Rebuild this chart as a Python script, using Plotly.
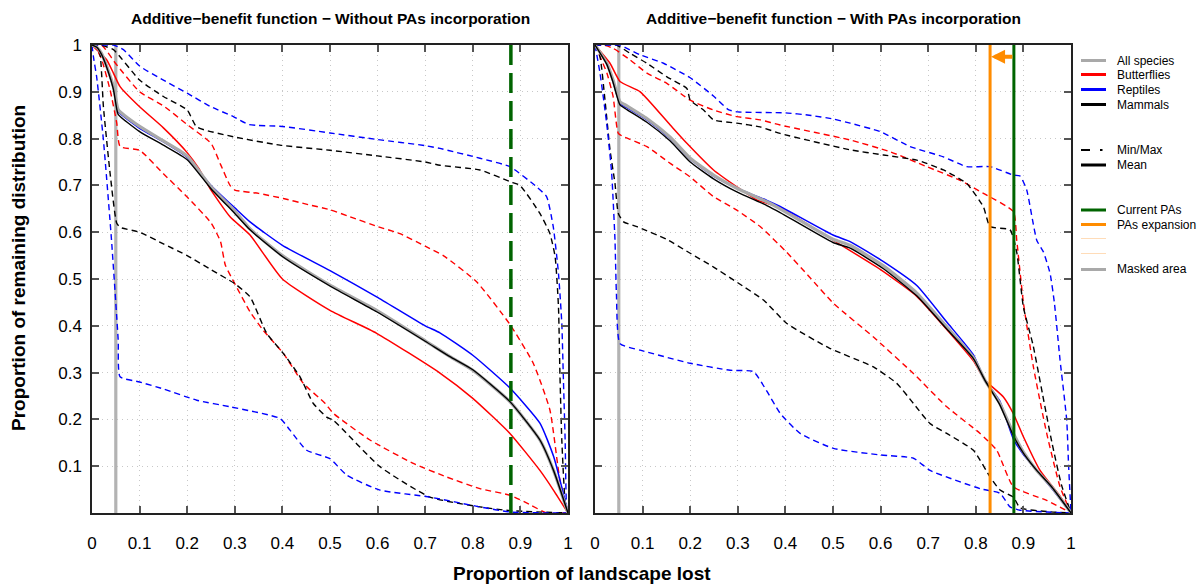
import plotly.graph_objects as go

# ---------------------------------------------------------------------------
# Performance curves: proportion of landscape lost (x) vs proportion of
# remaining distribution (y). Left panel: without PAs, right panel: with PAs.
# ---------------------------------------------------------------------------

# ---- Without PAs incorporation ------------------------------------------
WO_ALL_X = [0, 0.01, 0.02, 0.031, 0.045, 0.05, 0.055, 0.1, 0.15, 0.2, 0.25, 0.3, 0.332, 0.4, 0.5, 0.598, 0.7, 0.752, 0.8, 0.878, 0.941, 0.97, 1.0]
WO_ALL_Y = [1.0, 0.995, 0.982, 0.954, 0.911, 0.885, 0.862, 0.826, 0.795, 0.763, 0.697, 0.645, 0.607, 0.55, 0.487, 0.433, 0.368, 0.334, 0.305, 0.238, 0.156, 0.09, 0.0]
WO_MAM_Y = [1.0, 0.995, 0.98, 0.952, 0.905, 0.875, 0.852, 0.815, 0.786, 0.755, 0.693, 0.64, 0.605, 0.548, 0.485, 0.43, 0.367, 0.334, 0.306, 0.238, 0.156, 0.09, 0.0]
WO_REP_X = [0, 0.01, 0.02, 0.031, 0.045, 0.05, 0.055, 0.1, 0.15, 0.2, 0.25, 0.3, 0.332, 0.4, 0.5, 0.598, 0.7, 0.731, 0.8, 0.878, 0.941, 0.97, 1.0]
WO_REP_Y = [1.0, 0.995, 0.98, 0.952, 0.908, 0.882, 0.858, 0.822, 0.793, 0.76, 0.70, 0.652, 0.622, 0.572, 0.518, 0.462, 0.40, 0.385, 0.337, 0.267, 0.192, 0.12, 0.0]
WO_BUT_X = [0, 0.01, 0.031, 0.045, 0.059, 0.1, 0.15, 0.2, 0.225, 0.248, 0.29, 0.332, 0.4, 0.5, 0.598, 0.731, 0.8, 0.878, 0.941, 0.97, 1.0]
WO_BUT_Y = [1.0, 0.99, 0.968, 0.94, 0.911, 0.868, 0.823, 0.77, 0.735, 0.693, 0.633, 0.594, 0.5, 0.433, 0.384, 0.299, 0.245, 0.17, 0.091, 0.048, 0.0]

WO_BUT_MAX_X = [0, 0.02, 0.05, 0.1, 0.15, 0.2, 0.25, 0.27, 0.29, 0.3, 0.35, 0.402, 0.45, 0.5, 0.542, 0.6, 0.647, 0.7, 0.738, 0.808, 0.878, 0.927, 0.962, 0.983, 1.0]
WO_BUT_MAX_Y = [1.0, 1.0, 0.96, 0.90, 0.87, 0.83, 0.79, 0.745, 0.70, 0.69, 0.683, 0.672, 0.66, 0.648, 0.633, 0.612, 0.597, 0.57, 0.55, 0.494, 0.403, 0.32, 0.22, 0.07, 0.0]
WO_BUT_MIN_X = [0, 0.01, 0.02, 0.038, 0.052, 0.059, 0.1, 0.15, 0.2, 0.25, 0.27, 0.28, 0.3, 0.332, 0.36, 0.402, 0.444, 0.49, 0.507, 0.584, 0.675, 0.745, 0.815, 0.878, 0.92, 0.955, 1.0]
WO_BUT_MIN_Y = [1.0, 0.99, 0.97, 0.904, 0.833, 0.783, 0.775, 0.725, 0.675, 0.62, 0.58, 0.53, 0.49, 0.43, 0.39, 0.341, 0.277, 0.234, 0.213, 0.156, 0.106, 0.077, 0.052, 0.038, 0.018, 0.0, 0.0]
WO_MAM_MAX_X = [0, 0.017, 0.045, 0.1, 0.15, 0.2, 0.22, 0.297, 0.395, 0.5, 0.6, 0.7, 0.731, 0.815, 0.878, 0.899, 0.941, 0.962, 0.973, 0.98, 0.983, 0.987, 0.995, 1.0]
WO_MAM_MAX_Y = [1.0, 1.0, 0.99, 0.925, 0.89, 0.861, 0.825, 0.804, 0.786, 0.775, 0.763, 0.75, 0.743, 0.733, 0.708, 0.70, 0.64, 0.597, 0.547, 0.44, 0.298, 0.156, 0.013, 0.0]
WO_MAM_MIN_X = [0, 0.01, 0.017, 0.024, 0.038, 0.052, 0.06, 0.1, 0.15, 0.2, 0.25, 0.3, 0.332, 0.367, 0.402, 0.437, 0.465, 0.493, 0.507, 0.605, 0.71, 0.815, 0.878, 1.0]
WO_MAM_MIN_Y = [1.0, 0.995, 0.979, 0.868, 0.726, 0.619, 0.61, 0.60, 0.575, 0.55, 0.52, 0.49, 0.462, 0.384, 0.341, 0.291, 0.234, 0.205, 0.198, 0.099, 0.034, 0.013, 0.005, 0.0]
WO_REP_MAX_X = [0, 0.03, 0.045, 0.066, 0.1, 0.15, 0.2, 0.25, 0.297, 0.33, 0.4, 0.5, 0.6, 0.7, 0.731, 0.815, 0.878, 0.934, 0.955, 0.969, 0.98, 0.987, 0.99, 0.994, 0.997, 1.0]
WO_REP_MAX_Y = [1.0, 1.0, 1.0, 0.99, 0.955, 0.925, 0.897, 0.868, 0.847, 0.83, 0.826, 0.812, 0.798, 0.785, 0.779, 0.758, 0.74, 0.697, 0.676, 0.612, 0.512, 0.405, 0.298, 0.156, 0.013, 0.0]
WO_REP_MIN_X = [0, 0.003, 0.01, 0.024, 0.041, 0.055, 0.059, 0.1, 0.15, 0.22, 0.29, 0.395, 0.416, 0.451, 0.5, 0.535, 0.605, 0.71, 0.815, 0.88, 1.0]
WO_REP_MIN_Y = [1.0, 0.975, 0.93, 0.797, 0.583, 0.37, 0.291, 0.28, 0.265, 0.241, 0.227, 0.202, 0.177, 0.134, 0.116, 0.081, 0.049, 0.034, 0.013, 0.002, 0.0]

# ---- With PAs incorporation ---------------------------------------------
WI_ALL_X = [0, 0.025, 0.038, 0.0525, 0.067, 0.109, 0.158, 0.2, 0.249, 0.298, 0.361, 0.389, 0.5, 0.536, 0.606, 0.676, 0.739, 0.795, 0.819, 0.85, 0.879, 0.9, 0.928, 0.96, 1.0]
WI_ALL_Y = [1.0, 0.961, 0.925, 0.879, 0.87, 0.843, 0.803, 0.758, 0.722, 0.694, 0.665, 0.65, 0.585, 0.572, 0.528, 0.47, 0.398, 0.332, 0.284, 0.235, 0.17, 0.13, 0.091, 0.055, 0.0]
WI_MAM_Y = [1.0, 0.958, 0.92, 0.872, 0.862, 0.835, 0.795, 0.75, 0.714, 0.686, 0.657, 0.642, 0.578, 0.566, 0.522, 0.464, 0.393, 0.33, 0.284, 0.232, 0.165, 0.128, 0.091, 0.055, 0.0]
WI_REP_Y = [1.0, 0.96, 0.922, 0.875, 0.866, 0.84, 0.8, 0.756, 0.72, 0.694, 0.668, 0.655, 0.594, 0.58, 0.537, 0.486, 0.408, 0.338, 0.284, 0.24, 0.158, 0.125, 0.091, 0.052, 0.0]
WI_BUT_X = [0, 0.0315, 0.0525, 0.095, 0.158, 0.193, 0.249, 0.298, 0.34, 0.389, 0.5, 0.6, 0.676, 0.739, 0.795, 0.819, 0.858, 0.879, 0.9, 0.935, 0.977, 1.0]
WI_BUT_Y = [1.0, 0.961, 0.922, 0.9, 0.829, 0.79, 0.733, 0.697, 0.669, 0.652, 0.583, 0.52, 0.463, 0.392, 0.325, 0.284, 0.248, 0.212, 0.163, 0.091, 0.036, 0.0]

WI_BUT_MAX_X = [0, 0.017, 0.038, 0.074, 0.109, 0.151, 0.2, 0.249, 0.298, 0.347, 0.389, 0.536, 0.62, 0.697, 0.767, 0.816, 0.879, 0.886, 0.9, 0.921, 0.949, 0.977, 1.0]
WI_BUT_MAX_Y = [1.0, 1.0, 0.993, 0.968, 0.94, 0.918, 0.882, 0.861, 0.847, 0.84, 0.829, 0.797, 0.772, 0.74, 0.711, 0.683, 0.644, 0.583, 0.45, 0.312, 0.17, 0.056, 0.0]
WI_BUT_MIN_X = [0, 0.025, 0.038, 0.049, 0.06, 0.109, 0.158, 0.2, 0.249, 0.298, 0.347, 0.4, 0.45, 0.501, 0.585, 0.669, 0.739, 0.809, 0.844, 0.879, 0.949, 1.0]
WI_BUT_MIN_Y = [1.0, 0.94, 0.89, 0.811, 0.804, 0.783, 0.747, 0.718, 0.676, 0.647, 0.612, 0.56, 0.505, 0.448, 0.376, 0.298, 0.227, 0.17, 0.134, 0.056, 0.027, 0.0]
WI_MAM_MAX_X = [0, 0.02, 0.045, 0.074, 0.109, 0.151, 0.193, 0.2, 0.228, 0.249, 0.298, 0.347, 0.389, 0.536, 0.606, 0.676, 0.732, 0.781, 0.816, 0.83, 0.872, 0.886, 0.9, 0.92, 0.94, 0.96, 0.98, 1.0]
WI_MAM_MAX_Y = [1.0, 1.0, 1.0, 0.982, 0.961, 0.932, 0.907, 0.882, 0.861, 0.84, 0.833, 0.825, 0.811, 0.776, 0.765, 0.754, 0.733, 0.704, 0.654, 0.612, 0.605, 0.557, 0.44, 0.36, 0.255, 0.15, 0.06, 0.0]
WI_MAM_MIN_X = [0, 0.0105, 0.021, 0.0315, 0.042, 0.049, 0.06, 0.088, 0.15, 0.2, 0.25, 0.3, 0.354, 0.403, 0.493, 0.585, 0.634, 0.669, 0.704, 0.739, 0.795, 0.83, 0.851, 0.879, 0.893, 0.95, 1.0]
WI_MAM_MIN_Y = [1.0, 0.975, 0.882, 0.776, 0.704, 0.64, 0.622, 0.612, 0.585, 0.555, 0.525, 0.492, 0.455, 0.405, 0.352, 0.312, 0.277, 0.234, 0.191, 0.17, 0.134, 0.077, 0.049, 0.034, 0.011, 0.003, 0.0]
WI_REP_MAX_X = [0, 0.04, 0.0525, 0.067, 0.095, 0.144, 0.2, 0.25, 0.28, 0.3, 0.4, 0.45, 0.5, 0.536, 0.599, 0.662, 0.732, 0.781, 0.83, 0.879, 0.893, 0.907, 0.928, 0.942, 0.956, 0.965, 0.977, 0.991, 0.995, 1.0]
WI_REP_MAX_Y = [1.0, 1.0, 1.0, 0.993, 0.979, 0.961, 0.93, 0.89, 0.862, 0.857, 0.855, 0.85, 0.842, 0.833, 0.815, 0.783, 0.761, 0.74, 0.74, 0.722, 0.72, 0.69, 0.583, 0.558, 0.512, 0.45, 0.327, 0.198, 0.1, 0.0]
WI_REP_MIN_X = [0, 0.0105, 0.0245, 0.035, 0.042, 0.045, 0.0525, 0.095, 0.2, 0.284, 0.333, 0.36, 0.389, 0.431, 0.501, 0.6, 0.669, 0.704, 0.809, 0.851, 0.872, 0.893, 0.95, 1.0]
WI_REP_MIN_Y = [1.0, 0.94, 0.833, 0.726, 0.583, 0.469, 0.362, 0.348, 0.32, 0.305, 0.302, 0.262, 0.213, 0.17, 0.138, 0.124, 0.117, 0.091, 0.052, 0.042, 0.013, 0.006, 0.002, 0.0]

# ---- Reference positions on the landscape-lost axis ---------------------
MASKED_AREA = 0.05
CURRENT_PAS = 0.88
PAS_EXPANSION = 0.83
ARROW_LEVEL = 0.975

X_TICKS = [0, 0.1, 0.2, 0.3, 0.4, 0.5, 0.6, 0.7, 0.8, 0.9, 1]
X_LABELS = ["0", "0.1", "0.2", "0.3", "0.4", "0.5", "0.6", "0.7", "0.8", "0.9", "1"]
Y_TICKS = [0.1, 0.2, 0.3, 0.4, 0.5, 0.6, 0.7, 0.8, 0.9, 1]
Y_LABELS = ["0.1", "0.2", "0.3", "0.4", "0.5", "0.6", "0.7", "0.8", "0.9", "1"]

TITLES = ["Additive\u2212benefit function \u2212 Without PAs incorporation",
          "Additive\u2212benefit function \u2212 With PAs incorporation"]

RED, BLUE, BLACK, GREY = "#ff0000", "#0000ff", "#000000", "#a9a9a9"
GREEN, ORANGE, PALE_ORANGE = "#006400", "#ff8c00", "#ffdcb8"
FONT = "Liberation Sans, Arial, sans-serif"

# ---- Page geometry (pixels) -------------------------------------------------
W, H = 1203, 588
PANELS = [(92, 568), (595, 1071)]
TOP, BOTTOM = 45, 513


def fx(p):
    return p / W


def fy(p):
    return 1 - p / H


fig = go.Figure()

panels = [
    dict(xa="x", ya="y",
         dashed=[(WO_BUT_MAX_X, WO_BUT_MAX_Y, RED), (WO_BUT_MIN_X, WO_BUT_MIN_Y, RED),
                 (WO_MAM_MAX_X, WO_MAM_MAX_Y, BLACK), (WO_MAM_MIN_X, WO_MAM_MIN_Y, BLACK),
                 (WO_REP_MAX_X, WO_REP_MAX_Y, BLUE), (WO_REP_MIN_X, WO_REP_MIN_Y, BLUE)],
         means=[(WO_BUT_X, WO_BUT_Y, RED, 1.5), (WO_REP_X, WO_REP_Y, BLUE, 1.5),
                (WO_ALL_X, WO_ALL_Y, GREY, 3.2), (WO_ALL_X, WO_MAM_Y, BLACK, 1.4)]),
    dict(xa="x2", ya="y2",
         dashed=[(WI_BUT_MAX_X, WI_BUT_MAX_Y, RED), (WI_BUT_MIN_X, WI_BUT_MIN_Y, RED),
                 (WI_MAM_MAX_X, WI_MAM_MAX_Y, BLACK), (WI_MAM_MIN_X, WI_MAM_MIN_Y, BLACK),
                 (WI_REP_MAX_X, WI_REP_MAX_Y, BLUE), (WI_REP_MIN_X, WI_REP_MIN_Y, BLUE)],
         means=[(WI_BUT_X, WI_BUT_Y, RED, 1.5), (WI_ALL_X, WI_REP_Y, BLUE, 1.5),
                (WI_ALL_X, WI_ALL_Y, GREY, 3.2), (WI_ALL_X, WI_MAM_Y, BLACK, 1.4)]),
]

SMOOTH = 0.5
for p in panels:
    # masked area marker
    fig.add_trace(go.Scatter(x=[MASKED_AREA, MASKED_AREA], y=[0, 1], mode="lines",
                             line=dict(color="#b3b3b3", width=3.2),
                             xaxis=p["xa"], yaxis=p["ya"], showlegend=False, hoverinfo="skip"))
    for xs, ys, col in p["dashed"]:
        fig.add_trace(go.Scatter(x=xs, y=ys, mode="lines",
                                 line=dict(color=col, width=1.4, dash="6px,4px",
                                           shape="spline", smoothing=SMOOTH),
                                 xaxis=p["xa"], yaxis=p["ya"], showlegend=False))
    for xs, ys, col, w in p["means"]:
        fig.add_trace(go.Scatter(x=xs, y=ys, mode="lines",
                                 line=dict(color=col, width=w, shape="spline", smoothing=SMOOTH),
                                 xaxis=p["xa"], yaxis=p["ya"], showlegend=False))

# current PAs (dashed, left) and current/expanded PAs (right)
fig.add_trace(go.Scatter(x=[CURRENT_PAS, CURRENT_PAS], y=[0, 1], mode="lines",
                         line=dict(color=GREEN, width=3.5, dash="20px,8px"),
                         xaxis="x", yaxis="y", showlegend=False))
fig.add_trace(go.Scatter(x=[CURRENT_PAS, CURRENT_PAS], y=[0, 1], mode="lines",
                         line=dict(color=GREEN, width=3),
                         xaxis="x2", yaxis="y2", showlegend=False))
fig.add_trace(go.Scatter(x=[PAS_EXPANSION, PAS_EXPANSION], y=[0, 1], mode="lines",
                         line=dict(color=ORANGE, width=3),
                         xaxis="x2", yaxis="y2", showlegend=False))

annotations = [
    dict(x=PAS_EXPANSION, y=ARROW_LEVEL, ax=CURRENT_PAS, ay=ARROW_LEVEL,
         xref="x2", yref="y2", axref="x2", ayref="y2", text="", showarrow=True,
         arrowhead=2, arrowsize=0.7, arrowwidth=4, arrowcolor=ORANGE, standoff=1),
]

axis_common = dict(range=[0, 1], showline=True, linecolor="#222222", linewidth=1.5,
                   mirror="ticks", ticks="inside", ticklen=7, tickwidth=1.5,
                   tickcolor="#555555", showgrid=True, gridcolor="#c8c8c8",
                   griddash="1px,4px", gridwidth=1, zeroline=False, fixedrange=True,
                   automargin=False,
                   tickfont=dict(family=FONT, size=17, color="black"))

layout = dict(
    width=W, height=H, margin=dict(l=0, r=0, t=0, b=0, autoexpand=False),
    paper_bgcolor="white", plot_bgcolor="white", showlegend=False,
    font=dict(family=FONT, color="black"),
)
for i, (l, r) in enumerate(PANELS):
    sx = "" if i == 0 else "2"
    layout["xaxis" + sx] = dict(axis_common, domain=[fx(l), fx(r)], anchor="y" + sx,
                                tickvals=X_TICKS, ticktext=X_LABELS, ticklabelstandoff=14)
    layout["yaxis" + sx] = dict(axis_common, domain=[fy(BOTTOM), fy(TOP)], anchor="x" + sx,
                                tickvals=Y_TICKS, ticktext=Y_LABELS, ticklabelstandoff=5,
                                showticklabels=(i == 0))
    annotations.append(dict(x=fx((l + r) / 2), y=fy(18), xref="paper", yref="paper",
                            text="<b>%s</b>" % TITLES[i], showarrow=False,
                            font=dict(family=FONT, size=15.5, color="black"),
                            xanchor="center", yanchor="middle"))

annotations.append(dict(x=fx(582), y=fy(573), xref="paper", yref="paper",
                        text="<b>Proportion of landscape lost</b>", showarrow=False,
                        font=dict(family=FONT, size=19, color="black"),
                        xanchor="center", yanchor="middle"))
annotations.append(dict(x=fx(18), y=fy(268), xref="paper", yref="paper",
                        text="<b>Proportion of remaining distribution</b>", showarrow=False,
                        textangle=-90, font=dict(family=FONT, size=19, color="black"),
                        xanchor="center", yanchor="middle"))

# ---- Legend (drawn by hand to keep its spacing and blank rows) ------------
LEG_X0, LEG_X1, LEG_TX = 1081, 1106, 1115
legend_rows = [
    ("All species", GREY, 60.5),
    ("Butterflies", RED, 74.5),
    ("Reptiles", BLUE, 89.5),
    ("Mammals", BLACK, 104.5),
    ("Mean", BLACK, 165),
    ("Current PAs", GREEN, 210),
    ("PAs expansion", ORANGE, 224.5),
    ("Masked area", GREY, 269.5),
]
shapes = []
for label, col, ypx in legend_rows:
    shapes.append(dict(type="line", xref="paper", yref="paper",
                       x0=fx(LEG_X0), x1=fx(LEG_X1), y0=fy(ypx), y1=fy(ypx),
                       line=dict(color=col, width=3)))
    annotations.append(dict(x=fx(LEG_TX), y=fy(ypx), xref="paper", yref="paper",
                            text=label, showarrow=False, xanchor="left", yanchor="middle",
                            font=dict(family=FONT, size=12, color="black")))
# Min/Max key: a dash followed by a dot
shapes.append(dict(type="line", xref="paper", yref="paper",
                   x0=fx(1081), x1=fx(1090), y0=fy(150), y1=fy(150),
                   line=dict(color=BLACK, width=2)))
shapes.append(dict(type="line", xref="paper", yref="paper",
                   x0=fx(1100), x1=fx(1102.5), y0=fy(150), y1=fy(150),
                   line=dict(color=BLACK, width=2)))
annotations.append(dict(x=fx(LEG_TX), y=fy(150), xref="paper", yref="paper",
                        text="Min/Max", showarrow=False, xanchor="left", yanchor="middle",
                        font=dict(family=FONT, size=12, color="black")))
# two unlabeled expansion keys
for ypx in (238.5, 253.5):
    shapes.append(dict(type="line", xref="paper", yref="paper",
                       x0=fx(LEG_X0), x1=fx(LEG_X1), y0=fy(ypx), y1=fy(ypx),
                       line=dict(color=PALE_ORANGE, width=1)))

layout["annotations"] = annotations
layout["shapes"] = shapes
fig.update_layout(**layout)

fig.write_html("out.html", config={"displayModeBar": False})
